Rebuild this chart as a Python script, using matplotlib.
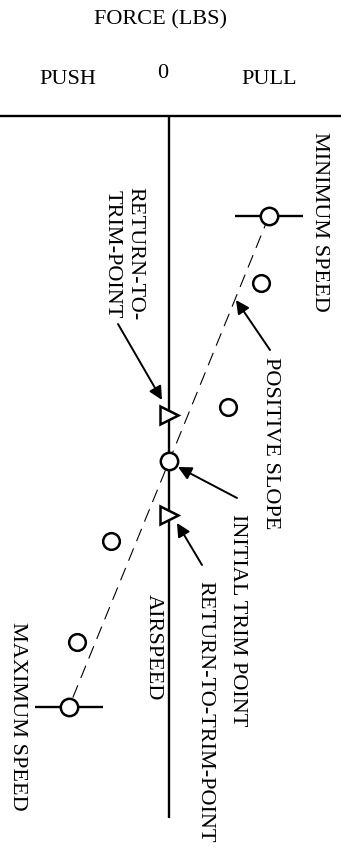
import matplotlib.pyplot as plt

plt.rcParams['font.family'] = ['Liberation Serif', 'DejaVu Serif']

# data (force in lbs, airspeed in arbitrary units, increasing downward)
limit_labels = ["MINIMUM SPEED", "MAXIMUM SPEED"]
limit_force = [5.0, -5.0]
limit_airspeed = [80.0, 178.2]
limit_spread = [1.72, 1.7]

test_force = [4.6, 2.95, -2.9, -4.6]
test_airspeed = [93.4, 118.2, 145.0, 165.2]

trim_force = [0.0]
trim_airspeed = [129.0]

rtt_force = [0.0, 0.0]
rtt_airspeed = [119.8, 139.8]

fig = plt.figure(figsize=(3.41, 8.49), dpi=100)
ax = fig.add_axes([0, 31 / 849, 1, 702 / 849])
ax.set_xlim(-8.45, 8.6)
ax.set_ylim(200.4, 60)
ax.axis("off")

fs = 16

# axes lines
ax.axhline(60, color="black", lw=1.7, clip_on=False, zorder=2)
ax.axvline(0, color="black", lw=1.7, zorder=2)

# positive slope line between the speed limits
ax.plot(limit_force, limit_airspeed, color="black", lw=0.8,
        linestyle=(0, (12, 7)), zorder=1)

# min / max speed points with bars
ax.errorbar(limit_force, limit_airspeed, xerr=limit_spread, fmt="o",
            ms=12.5, mfc="white", mec="black", mew=1.8, ecolor="black",
            elinewidth=1.7, capsize=0, zorder=4)

ax.plot(test_force, test_airspeed, "o", ms=12, mfc="white", mec="black",
        mew=1.8, zorder=4)
ax.plot(trim_force, trim_airspeed, "o", ms=12.5, mfc="white", mec="black",
        mew=1.8, zorder=4)
ax.plot(rtt_force, rtt_airspeed, ">", ms=12.5, mfc="white", mec="black",
        mew=1.8, zorder=4)

# header
ax.text(-0.45, 40.8, "FORCE (LBS)", fontsize=fs, ha="center", va="center")
ax.text(-5.05, 52.6, "PUSH", fontsize=fs, ha="center", va="center")
ax.text(-0.3, 51.4, "0", fontsize=fs, ha="center", va="center")
ax.text(5.0, 52.6, "PULL", fontsize=fs, ha="center", va="center")

# side labels
ax.text(7.5, 81.2, limit_labels[0], fontsize=fs, rotation=270,
        ha="center", va="center")
ax.text(-7.57, 180.0, limit_labels[1], fontsize=fs, rotation=270,
        ha="center", va="center")
ax.text(-0.78, 166.2, "AIRSPEED", fontsize=fs, rotation=270,
        ha="center", va="center")

arrow = dict(arrowstyle="-|>", color="black", lw=1.4, mutation_scale=20,
             shrinkA=0, shrinkB=0)

ax.text(-2.28, 87.6, "RETURN-TO-\nTRIM-POINT", fontsize=fs, rotation=270,
        ha="center", va="center", multialignment="center", linespacing=1.3)
ax.annotate("", xy=(-0.35, 116.8), xytext=(-2.55, 101.6), arrowprops=arrow)

ax.text(5.08, 125.5, "POSITIVE SLOPE", fontsize=fs, rotation=270,
        ha="center", va="center")
ax.annotate("", xy=(3.35, 96.8), xytext=(5.05, 106.8), arrowprops=arrow)

ax.text(3.43, 160.8, "INITIAL TRIM POINT", fontsize=fs, rotation=270,
        ha="center", va="center")
ax.annotate("", xy=(0.45, 130.2), xytext=(3.4, 136.4), arrowprops=arrow)

ax.text(1.8, 179.2, "RETURN-TO-TRIM-POINT", fontsize=fs, rotation=270,
        ha="center", va="center")
ax.annotate("", xy=(0.4, 141.4), xytext=(1.65, 149.8), arrowprops=arrow)

fig.savefig("out.png", dpi=100)
